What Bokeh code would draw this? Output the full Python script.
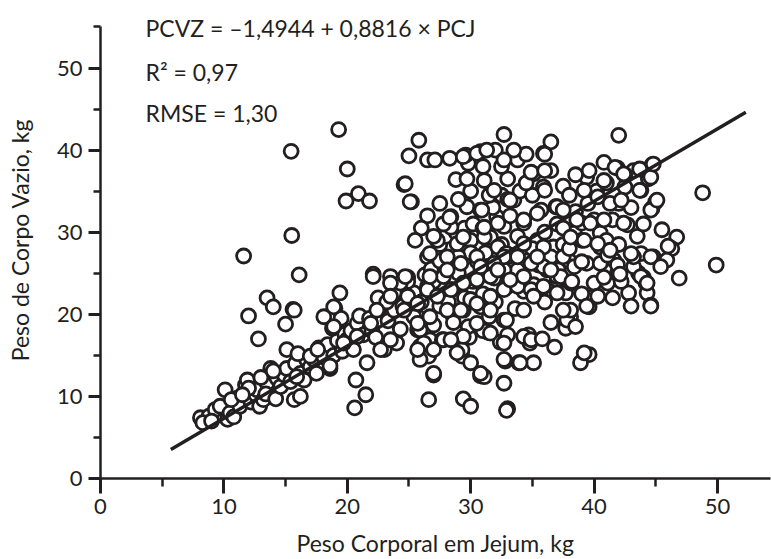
from bokeh.plotting import figure
from bokeh.models import Range1d, FixedTicker, ColumnDataSource
from bokeh.core.properties import value
from bokeh.embed import file_html
from bokeh.resources import INLINE

# Peso Corporal em Jejum (PCJ, kg) and Peso de Corpo Vazio (PCVZ, kg)
points = [
    # low cluster along the line
    (8.1, 7.4), (8.8, 7.6), (8.3, 6.8), (9.3, 8.4), (9.7, 8.8), (10.1, 10.8), (10.3, 7.2), (10.5, 8.0),
    (10.8, 7.5), (11.1, 9.8), (11.3, 8.8), (11.75, 11.4), (11.9, 12.0), (12.2, 9.3), (12.6, 10.2),
    (12.7, 10.8), (12.9, 8.8), (13.2, 9.6), (13.5, 11.6), (13.8, 13.4), (13.4, 10.3), (14.2, 9.7),
    (14.3, 12.2), (14.6, 11.2), (14.9, 12.6), (15.1, 13.4), (15.1, 15.7), (15.4, 11.8), (15.7, 9.6),
    (15.8, 14.0), (16.2, 12.8), (16.5, 12.0), (16.7, 14.5), (16.0, 15.2), (17.0, 13.6), (17.3, 14.5),
    (17.7, 15.9), (17.5, 12.8), (18.1, 14.8), (18.6, 13.4), (18.4, 16.3), (18.9, 15.0), (19.2, 16.8),
    (19.6, 15.5), (19.8, 17.6), (20.0, 16.9), (20.5, 15.7), (20.3, 18.0), (20.8, 18.9), (21.3, 17.5),
    (21.0, 19.8), (10.6, 9.6), (12.0, 11.0), (11.5, 10.2), (9.0, 7.0), (13.0, 12.3), (14.0, 13.1),
    (15.9, 12.4), (16.2, 10.0), (17.0, 14.9), (17.6, 15.7), (18.6, 13.7), (19.7, 16.5),
    # upper-left scattered
    (11.6, 27.1), (12.0, 19.8), (12.8, 17.0), (13.5, 22.0), (14.0, 20.9), (15.6, 20.6), (15.0, 18.8),
    (15.5, 29.6), (15.45, 39.85), (16.1, 24.8), (19.3, 42.5), (20.0, 37.7), (19.4, 22.6), (19.0, 20.7),
    (18.4, 19.7), (19.5, 19.5), (18.8, 18.3), (20.9, 34.7), (19.9, 33.8), (21.8, 33.8), (22.1, 24.9),
    (23.5, 24.6), (24.9, 24.5), (25.8, 41.2), (25.0, 39.3), (26.5, 38.8), (27.1, 38.8), (24.6, 35.8),
    (25.2, 33.7), (26.7, 27.2), (26.3, 24.8), (18.1, 19.7), (18.9, 20.9), (18.9, 18.5), (15.7, 20.5),
    # low outliers
    (20.6, 8.6), (21.5, 10.2), (20.7, 12.0), (21.6, 14.1), (26.6, 9.6), (27.0, 12.6), (29.4, 9.7),
    (30.0, 8.8), (30.8, 12.5), (32.7, 11.6), (33.0, 8.5), (32.9, 8.3), (33.9, 14.1), (35.1, 14.1),
    (32.8, 14.3), (34.7, 17.5), (34.8, 16.5), (29.3, 14.9), (29.3, 15.7), (29.9, 17.2), (31.4, 17.8),
    (32.4, 16.6), (25.9, 15.9), (26.6, 14.9), (37.7, 18.3), (38.1, 19.7), (39.6, 15.1), (38.9, 14.1),
    (39.6, 20.9), (40.0, 22.2), (40.0, 23.8), (41.1, 23.8), (41.9, 25.0), (42.8, 22.6), (43.6, 25.0),
    (44.2, 23.8), (44.3, 22.6), (44.6, 21.1), (46.9, 24.4), (49.9, 26.0), (48.8, 34.8), (42.0, 41.8),
    (28.9, 15.3), (30.0, 14.1), (31.1, 12.4), (32.7, 14.5), (34.0, 14.1), (30.8, 12.8), (27.0, 12.8),
    (39.2, 15.3), (37.8, 19.3),
    # middle band
    (22.0, 18.0), (22.7, 20.9), (23.0, 15.7), (23.3, 19.2), (23.8, 20.5), (23.8, 22.6), (24.0, 16.5),
    (24.3, 18.2), (24.5, 21.0), (25.4, 22.6), (25.7, 19.7), (25.9, 16.1), (25.9, 14.5), (26.5, 23.4),
    (26.5, 27.0), (26.7, 16.9), (22.3, 17.2), (21.8, 19.5), (22.5, 22.0), (23.2, 21.5), (24.9, 24.0),
    (24.3, 23.8), (24.9, 22.2), (25.7, 18.1), (25.4, 19.7), (25.9, 18.1), (26.6, 19.3), (27.0, 18.7),
    (27.7, 16.9), (27.5, 21.0), (28.0, 22.5), (28.5, 20.0), (26.0, 21.5), (27.0, 24.0), (27.8, 24.6),
    (24.7, 24.6), (20.8, 17.3), (21.9, 18.9), (22.4, 20.5), (22.1, 24.6), (23.5, 23.8), (23.5, 22.2),
    (24.6, 20.5), (25.7, 21.3), (26.5, 23.0), (25.7, 18.9), (26.7, 19.7), (26.2, 16.5), (25.7, 15.7),
    (27.0, 15.7), (27.8, 16.9), (23.5, 16.9), (22.7, 15.7),
    # dense centre
    (28.1, 26.6), (29.2, 28.2), (30.0, 29.0), (31.6, 29.4), (32.7, 30.7), (34.3, 31.1), (35.4, 29.0),
    (36.7, 28.2), (38.4, 29.9), (28.4, 31.9), (29.7, 33.1), (30.8, 32.7), (32.1, 31.9), (33.5, 33.9),
    (34.3, 31.5), (35.7, 32.7), (36.9, 33.1), (29.4, 20.5), (30.8, 20.9), (31.5, 19.7), (32.7, 19.3),
    (33.6, 20.7), (35.1, 23.6), (37.0, 24.2), (37.1, 25.4), (37.7, 22.6), (35.7, 23.0), (36.2, 25.4),
    (33.5, 24.6), (33.0, 23.4), (34.3, 22.8), (31.9, 24.4), (28.5, 23.0), (29.0, 25.0), (29.5, 22.0),
    (30.2, 24.0), (30.5, 26.5), (31.0, 22.5), (31.2, 27.5), (32.0, 26.0), (32.5, 28.5), (33.0, 27.0),
    (33.8, 29.5), (34.5, 26.5), (35.0, 28.0), (35.5, 26.0), (36.0, 30.0), (36.5, 27.0), (37.5, 28.5),
    (37.0, 31.0), (38.0, 26.5), (27.5, 28.5), (28.0, 29.5), (28.8, 30.0), (29.5, 30.5), (30.2, 31.0),
    (31.0, 30.5), (31.8, 33.0), (32.5, 34.5), (33.2, 32.0), (34.0, 35.0), (35.0, 34.5), (30.0, 27.5),
    (31.5, 25.5), (26.8, 25.5), (27.5, 26.5), (29.0, 27.0), (28.2, 21.5), (30.0, 21.8), (32.0, 21.5),
    (34.0, 24.0), (36.0, 21.5), (29.8, 18.5), (31.0, 18.0), (33.0, 17.5), (28.6, 19.0),
    (26.7, 27.4), (28.1, 27.0), (28.9, 28.6), (31.1, 29.4), (32.2, 28.2), (32.9, 27.4), (34.3, 28.6),
    (35.9, 28.2), (37.5, 27.0), (38.4, 25.8), (37.0, 24.6), (35.9, 25.8), (34.9, 26.2), (33.8, 25.4),
    (32.7, 25.4), (31.6, 24.6), (30.5, 24.2), (29.4, 23.8), (28.4, 23.0), (27.3, 22.2), (28.1, 20.5),
    (29.2, 20.5), (30.5, 21.3), (31.6, 22.2), (32.7, 23.0), (33.8, 23.4), (34.9, 23.0), (35.9, 23.4),
    (37.0, 22.6), (38.1, 23.8), (31.6, 20.5), (32.9, 19.3), (34.3, 20.5), (35.1, 22.2), (30.5, 18.9),
    (29.4, 17.3), (28.4, 16.9), (31.6, 17.7), (32.7, 16.5), (34.3, 17.3), (34.9, 16.9), (38.1, 20.5),
    (37.3, 24.6), (32.2, 31.1), (31.1, 30.6), (29.4, 29.4), (28.4, 30.6), (27.3, 29.0), (32.7, 27.0),
    (30.5, 27.0), (31.9, 26.2), (29.2, 26.2), (33.8, 27.0), (35.4, 27.0), (36.5, 25.4), (34.3, 24.6),
    (33.2, 24.2), (32.2, 25.4), (30.8, 25.8), (28.1, 25.4), (26.7, 24.6),
    # upper band
    (24.7, 35.9), (25.1, 33.7), (28.8, 36.4), (29.8, 38.4), (31.1, 36.3), (33.0, 36.5), (33.8, 38.8),
    (35.1, 37.1), (35.9, 35.5), (37.5, 35.6), (28.3, 39.0), (29.6, 39.4), (30.8, 39.8), (32.0, 40.0),
    (36.5, 41.0), (35.9, 39.6), (32.7, 41.9), (31.0, 38.0), (32.5, 38.0), (34.5, 36.0), (30.0, 35.0),
    (27.5, 33.5), (26.5, 32.0), (27.8, 31.0), (31.5, 34.5), (33.0, 34.0), (29.0, 34.0), (26.0, 30.5),
    (25.5, 29.0), (27.0, 29.5), (34.5, 39.5), (36.5, 37.5), (33.5, 40.0),
    (29.4, 39.2), (30.5, 39.6), (31.3, 40.0), (32.7, 38.8), (29.7, 36.5), (31.9, 35.1), (34.9, 37.3),
    (36.0, 37.5), (36.0, 39.5), (36.0, 35.1), (30.9, 32.7), (33.2, 33.9), (35.4, 32.3), (37.0, 33.1),
    (28.3, 31.8),
    # right part
    (39.4, 36.7), (39.6, 37.5), (41.9, 37.8), (43.2, 37.5), (44.7, 38.2), (43.8, 35.1), (44.4, 36.5),
    (44.7, 32.9), (45.0, 33.7), (45.5, 30.3), (46.7, 29.4), (46.3, 28.0), (39.0, 31.1), (40.5, 29.9),
    (42.0, 33.5), (42.7, 30.9), (43.8, 27.4), (44.8, 27.0), (43.2, 25.8), (40.5, 28.2), (41.6, 26.6),
    (39.4, 26.2), (39.0, 26.4), (40.5, 26.2), (41.1, 27.2), (41.9, 26.0), (43.2, 27.0), (44.6, 27.0),
    (45.9, 26.6), (46.0, 28.3), (38.5, 32.5), (39.5, 33.5), (40.2, 35.0), (41.0, 36.0), (40.0, 31.5),
    (41.5, 31.5), (42.5, 35.5), (43.0, 33.0), (38.0, 34.5), (38.5, 37.0), (40.8, 38.5), (42.5, 37.0),
    (37.5, 30.5), (38.0, 28.0), (39.0, 29.0), (41.0, 29.0), (42.0, 28.5), (43.5, 29.5), (44.0, 31.0),
    (38.2, 24.0), (39.0, 22.5), (40.8, 24.5), (42.2, 24.0), (44.0, 24.5), (37.5, 20.5), (36.5, 19.0),
    (35.8, 17.0), (36.8, 16.0), (38.5, 18.5), (41.5, 22.0), (43.0, 21.0),
    (40.8, 36.3), (41.7, 37.9), (42.4, 37.1), (43.7, 37.7), (44.6, 36.7), (44.8, 38.3), (39.2, 35.1),
    (40.3, 34.3), (41.3, 33.5), (42.2, 33.9), (43.7, 35.1), (44.6, 32.7), (45.1, 33.9), (37.5, 32.7),
    (38.6, 31.5), (39.7, 31.1), (40.8, 31.5), (42.4, 31.1), (38.1, 29.4), (39.2, 29.0), (40.3, 28.6),
    (41.3, 27.8), (43.0, 27.4), (45.4, 25.8), (43.8, 24.6), (44.3, 23.8), (44.6, 21.0), (42.1, 24.9),
    (39.4, 21.0), (40.3, 22.2),
]
pcj = [pt[0] for pt in points]
pcvz = [pt[1] for pt in points]

intercept = -1.4944
slope = 0.8816
fit_x = [5.7, 52.3]
fit_y = [intercept + slope * v for v in fit_x]

x_ticks = [0, 10, 20, 30, 40, 50]
x_minor = [5, 15, 25, 35, 45]
y_ticks = [0, 10, 20, 30, 40, 50]
y_minor = [5, 15, 25, 35, 45, 55]

annot_text = ["PCVZ = \u20131,4944 + 0,8816 \u00d7 PCJ", "R\u00b2 = 0,97", "RMSE = 1,30"]
annot_y = [54.9, 49.5, 44.5]
annot_x = [3.65, 3.65, 3.65]

INK = "#231f20"
FONT = "Lato"
FS = "22px"
FS_BIG = "23px"

p = figure(width=771, height=559, output_backend="svg", toolbar_location=None,
           x_range=Range1d(0.0, 54.3), y_range=Range1d(0.0, 58.1),
           min_border_left=100, min_border_right=1, min_border_top=1, min_border_bottom=80,
           background_fill_color="white", border_fill_color="white")
p.outline_line_color = None
p.grid.visible = False

src = ColumnDataSource(dict(x=pcj, y=pcvz))
p.scatter("x", "y", source=src, marker="circle", size=14, line_width=2.8,
          line_color=INK, fill_color="white")
p.line(fit_x, fit_y, line_width=3.5, line_color=INK)

p.text(x=annot_x, y=annot_y, text=annot_text, text_font=value(FONT), text_font_size=FS_BIG,
       text_baseline="middle", text_align="left", text_color=INK)

for ax in (p.xaxis[0], p.yaxis[0]):
    ax.axis_line_width = 2.5
    ax.axis_line_color = INK
    ax.major_tick_line_color = INK
    ax.minor_tick_line_color = INK
    ax.major_tick_line_width = 3
    ax.minor_tick_line_width = 2.5
    ax.major_tick_in = 0
    ax.minor_tick_in = 0
    ax.major_label_text_font = FONT
    ax.major_label_text_font_size = FS
    ax.major_label_text_color = INK
    ax.axis_label_text_font = FONT
    ax.axis_label_text_font_size = FS_BIG
    ax.axis_label_text_font_style = "normal"
    ax.axis_label_text_color = INK

p.xaxis.ticker = FixedTicker(ticks=x_ticks, minor_ticks=x_minor)
p.yaxis.ticker = FixedTicker(ticks=y_ticks, minor_ticks=y_minor)
p.yaxis.bounds = (0.0, 55.0)
p.xaxis.major_tick_out = 15
p.xaxis.minor_tick_out = 8
p.yaxis.major_tick_out = 12
p.yaxis.minor_tick_out = 7
p.xaxis.major_label_standoff = 5
p.yaxis.major_label_standoff = 6
p.yaxis.axis_label_standoff = 20
p.xaxis.axis_label_standoff = 12
p.xaxis.axis_label = "Peso Corporal em Jejum, kg"
p.yaxis.axis_label = "Peso de Corpo Vazio, kg"

open("out.html", "w").write(file_html(p, INLINE))
